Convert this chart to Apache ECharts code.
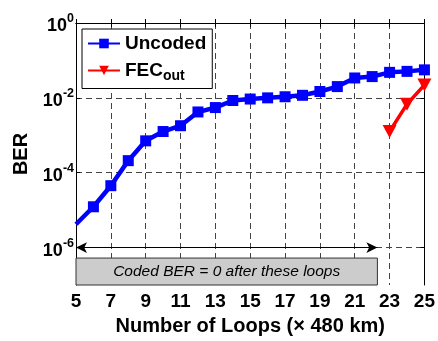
<!DOCTYPE html>
<html><head><meta charset="utf-8">
<script src="https://cdn.jsdelivr.net/npm/echarts@6/dist/echarts.min.js"></script>
<style>html,body{margin:0;padding:0;background:#fff}#c{width:438px;height:341px}</style>
</head><body><div id="c"></div>
<script>
const loops = [5,6,7,8,9,10,11,12,13,14,15,16,17,18,19,20,21,22,23,24,25];
const uncodedBER = [4.2e-6,1.23e-5,4.5e-5,2.1e-4,7.1e-4,1.26e-3,1.8e-3,4.2e-3,5.5e-3,8.5e-3,9.3e-3,1.0e-2,1.07e-2,1.17e-2,1.48e-2,2.0e-2,3.4e-2,3.7e-2,4.8e-2,5.1e-2,5.6e-2];
const fecLoops = [23,24,25];
const fecBER = [1.26e-3,6.8e-3,2.2e-2];
const xTicks = [5,7,9,11,13,15,17,19,21,23,25];
const yTickExp = [-6,-4,-2,0];
const yRangeExp = [-7,0];
const codedZeroRange = [5,22.3];
const codedZeroLevelExp = -6;
const codedBoxTopExp = -6.28;
const noteText = 'Coded BER = 0 after these loops';

const FONT = '"Liberation Sans", Arial, Helvetica, sans-serif';
const chart = echarts.init(document.getElementById('c'));
const uData = loops.map((x,i)=> i===0 ? {value:[x, Math.log10(uncodedBER[i])], symbolSize:0} : [x, Math.log10(uncodedBER[i])]);
const fData = fecLoops.map((x,i)=>[x, Math.log10(fecBER[i])]);
const grid = {left:76,right:10,top:23,bottom:46};
const dashed = {show:true,lineStyle:{color:'#444',type:[6,4],width:1}};
chart.setOption({
  animation:false,
  grid,
  xAxis:[{
    type:'value',min:loops[0],max:loops[loops.length-1],interval:1,
    axisLine:{lineStyle:{color:'#000',width:1}},
    axisTick:{inside:true,length:4,customValues:xTicks,lineStyle:{color:'#000'}},
    axisLabel:{customValues:xTicks,margin:7,color:'#000',fontSize:19,fontWeight:'bold',fontFamily:FONT},
    splitLine:dashed,
    name:'Number of Loops (× 480 km)',nameLocation:'middle',nameGap:31,
    nameTextStyle:{color:'#000',fontSize:20,fontWeight:'bold',fontFamily:FONT}
  },{
    type:'value',position:'top',min:loops[0],max:loops[loops.length-1],interval:1,
    axisLine:{lineStyle:{color:'#000',width:1}},
    axisTick:{inside:true,length:4,customValues:xTicks,lineStyle:{color:'#000'}},
    axisLabel:{show:false},splitLine:{show:false}
  }],
  yAxis:[{
    type:'value',min:yRangeExp[0],max:yRangeExp[1],interval:1,
    axisLine:{lineStyle:{color:'#000',width:1}},
    axisTick:{inside:true,length:4,customValues:yTickExp,lineStyle:{color:'#000'}},
    axisLabel:{customValues:yTickExp,margin:2,color:'#000',
      formatter:v=>'{b|10}{s|'+v+'}',
      rich:{b:{fontSize:18,fontWeight:'bold',fontFamily:FONT,color:'#000',padding:[6,0,0,0]},
            s:{fontSize:12.5,fontWeight:'bold',fontFamily:FONT,color:'#000',verticalAlign:'bottom',padding:[0,0,10,0]}}},
    splitLine:dashed,
    name:'BER',nameLocation:'middle',nameGap:44,
    nameTextStyle:{color:'#000',fontSize:20,fontWeight:'bold',fontFamily:FONT}
  },{
    type:'value',position:'right',min:yRangeExp[0],max:yRangeExp[1],interval:1,
    axisLine:{lineStyle:{color:'#000',width:1}},
    axisTick:{inside:true,length:4,customValues:yTickExp,lineStyle:{color:'#000'}},
    axisLabel:{show:false},splitLine:{show:false}
  }],
  legend:{
    left:82,top:29,orient:'vertical',
    backgroundColor:'#fff',borderColor:'#000',borderWidth:1,padding:[5,6,5,5],
    itemWidth:32,itemHeight:12,itemGap:8,
    textStyle:{color:'#000',fontSize:19,fontWeight:'bold',fontFamily:FONT,
      rich:{sub:{fontSize:14,fontWeight:'bold',fontFamily:FONT,color:'#000',verticalAlign:'top',padding:[12,0,0,0]}}},
    formatter:n=> n==='FEC_out' ? 'FEC{sub|out}' : n,
    data:['Uncoded','FEC_out']
  },
  series:[{
    name:'Uncoded',type:'line',data:uData,
    color:'#0000ff',
    lineStyle:{width:4.5,color:'#0000ff'},
    symbol:'rect',symbolSize:11,itemStyle:{color:'#0000ff'},
    z:5,
    markArea:{silent:true,
      itemStyle:{color:'#cccccc',borderColor:'#333',borderWidth:1},
      label:{show:true,position:'inside',color:'#000',fontSize:15.5,fontStyle:'italic',fontFamily:FONT},
      data:[[{coord:[codedZeroRange[0],yRangeExp[0]],name:noteText},{coord:[codedZeroRange[1],codedBoxTopExp]}]]},
    markLine:{silent:true,symbol:['arrow','arrow'],symbolSize:[8,11],
      lineStyle:{color:'#000',type:'solid',width:1},label:{show:false},
      data:[[{coord:[codedZeroRange[0],codedZeroLevelExp]},{coord:[codedZeroRange[1],codedZeroLevelExp]}]]}
  },{
    name:'FEC_out',type:'line',data:fData,
    color:'#ff0000',
    lineStyle:{width:3.5,color:'#ff0000'},
    symbol:'triangle',symbolRotate:180,symbolSize:[14,13],itemStyle:{color:'#ff0000'},
    z:6
  }]
});
</script></body></html>
